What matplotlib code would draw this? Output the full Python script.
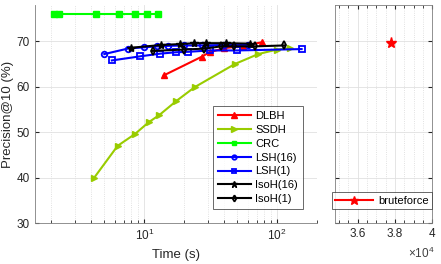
import matplotlib
matplotlib.use("Agg")
import matplotlib.pyplot as plt
import matplotlib.ticker as mticker

plt.rcParams['font.family'] = ['Liberation Sans', 'DejaVu Sans']
plt.rcParams['mathtext.fontset'] = 'custom'
plt.rcParams['mathtext.rm'] = 'Liberation Sans'

dlbh_t = [14, 27, 31, 40, 55, 77]
dlbh_p = [62.5, 66.6, 67.6, 68.5, 69.0, 69.8]
ssdh_t = [4.2, 6.3, 8.5, 10.8, 13.0, 17.3, 23.9, 48, 72, 100, 125]
ssdh_p = [40.0, 47.0, 49.6, 52.2, 53.8, 56.8, 59.9, 65.0, 67.2, 68.2, 68.5]
crc_t = [2.1, 2.3, 4.35, 6.45, 8.45, 10.5, 12.7]
crc_p = [76.0, 76.0, 76.0, 76.0, 76.0, 76.0, 76.0]
lsh16_t = [5.0, 7.5, 10, 12.5, 15, 20, 27, 40, 60]
lsh16_p = [67.2, 68.4, 68.7, 68.9, 69.0, 69.1, 69.1, 69.2, 69.2]
lsh1_t = [5.7, 9.3, 13.2, 17.3, 21.5, 31, 50, 153]
lsh1_p = [65.8, 66.7, 67.3, 67.6, 67.7, 68.0, 68.0, 68.3]
isoh16_t = [8, 13.4, 18.6, 23.7, 29, 41, 63]
isoh16_p = [68.6, 69.2, 69.4, 69.6, 69.6, 69.6, 69.5]
isoh1_t = [11.6, 20, 28.3, 38, 47, 68.5, 113]
isoh1_p = [67.9, 68.2, 68.4, 68.9, 68.9, 68.9, 69.1]
brute_t = [3.78e4]
brute_p = [69.6]

fig = plt.figure(figsize=(4.41, 2.64), dpi=100)
ax = fig.add_axes([0.079, 0.155, 0.640, 0.826])
ax2 = fig.add_axes([0.760, 0.155, 0.220, 0.826])

ygreen = (0.6, 0.8, 0.0)
lw = 1.5
ax.plot(dlbh_t, dlbh_p, '-^', color='r', mfc='r', lw=lw, ms=5, label='DLBH')
ax.plot(ssdh_t, ssdh_p, '->', color=ygreen, mfc=ygreen, lw=lw, ms=5, label='SSDH')
ax.plot(crc_t, crc_p, '-s', color=(0, 1, 0), mfc=(0, 1, 0), lw=lw, ms=4, label='CRC')
ax.plot(lsh16_t, lsh16_p, '-o', color='b', mfc='none', lw=lw, ms=4, mew=1.3, label='LSH(16)')
ax.plot(lsh1_t, lsh1_p, '-s', color='b', mfc='none', lw=lw, ms=4, mew=1.3, label='LSH(1)')
ax.plot(isoh16_t, isoh16_p, '-*', color='k', mfc='k', lw=lw, ms=6, label='IsoH(16)')
ax.plot(isoh1_t, isoh1_p, '-d', color='k', mfc='none', lw=lw, ms=4, mew=1.3, label='IsoH(1)')

ax.set_xscale('log')
ax.set_xlim(1.5, 200)
ax.set_ylim(30, 78)
ax.set_yticks([30, 40, 50, 60, 70])
ax.set_xlabel('Time (s)', fontsize=9.5, color='#262626')
ax.set_ylabel('Precision@10 (%)', fontsize=9.5, color='#262626', labelpad=2)

ax2.plot(brute_t, brute_p, '-*', color='r', mfc='r', lw=lw, ms=8, label='bruteforce')
ax2.set_xlim(3.48e4, 4.0e4)
ax2.set_ylim(30, 78)
ax2.set_yticks([30, 40, 50, 60, 70])
ax2.set_yticklabels([])
ax2.set_xticks([3.6e4, 3.8e4, 4.0e4])
ax2.set_xticklabels(['3.6', '3.8', '4'])
ax2.xaxis.set_minor_locator(mticker.MultipleLocator(500))
fig.text(0.985, 0.012, r'$\times10^4$', ha='right', va='bottom',
         fontsize=8.5, color='#404040')

for a in (ax, ax2):
    a.tick_params(which='both', direction='in', labelsize=8.5, colors='#262626',
                  top=True, right=True)
    a.tick_params(which='major', length=3)
    a.tick_params(which='minor', length=2)
    a.grid(True, which='major', color='#e0e0e0', lw=0.6)
    a.grid(True, which='minor', axis='x', color='#d8d8d8', lw=0.6, ls=':')
    a.set_axisbelow(True)
    for s in a.spines.values():
        s.set_color('#7f7f7f')
        s.set_linewidth(0.6)
ax.tick_params(axis='y', which='minor', left=False, right=False)
ax.tick_params(which='both', top=False, right=False)
ax.spines['top'].set_visible(False)
ax.spines['right'].set_visible(False)

leg = ax.legend(loc='lower right', fontsize=8, handlelength=3.0, markerscale=0.8,
                fancybox=False, edgecolor='#262626', borderaxespad=1.3,
                labelspacing=0.35, borderpad=0.4, handletextpad=0.4)
leg.get_frame().set_linewidth(0.6)
leg2 = ax2.legend(loc='lower right', bbox_to_anchor=(1.0, 0.065), fontsize=8,
                  handlelength=3.4, markerscale=0.8, fancybox=False,
                  edgecolor='#262626', borderaxespad=0.0,
                  borderpad=0.3, handletextpad=0.5)
leg2.get_frame().set_linewidth(0.6)

fig.savefig('out.png', dpi=100)
